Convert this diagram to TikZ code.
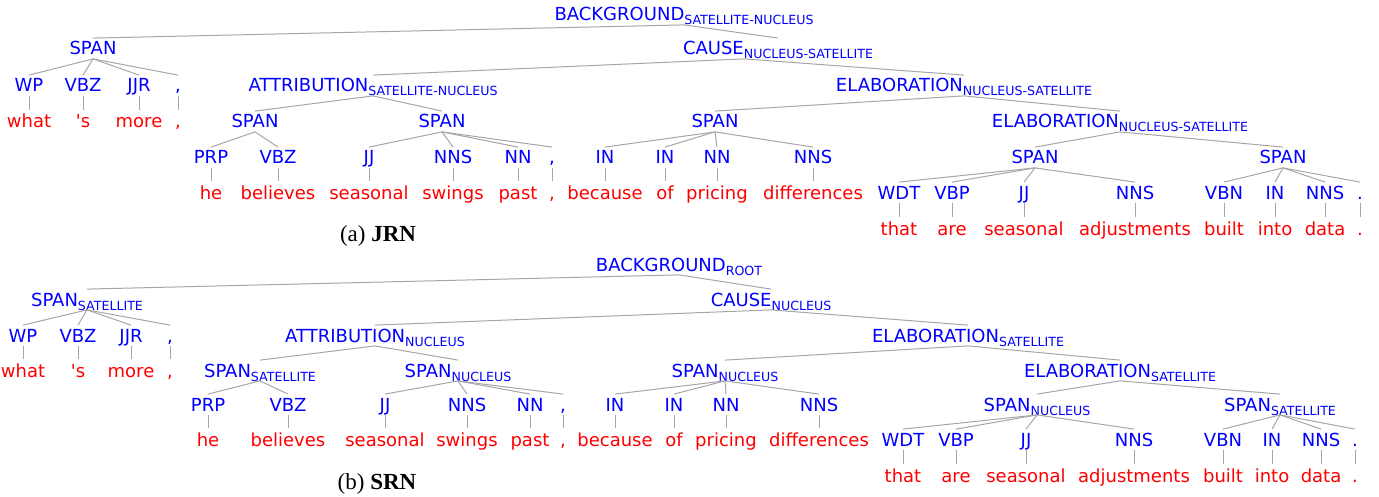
\documentclass[tikz,border=0pt]{standalone}
\usepackage{fontspec}
\newfontfamily\treefont{DejaVu Sans}
\newfontfamily\capfont{Liberation Serif}
\newcommand{\relsub}[1]{\raisebox{-2pt}{\fontsize{6.3}{7}\selectfont #1}}
\tikzset{
  rel/.style={text=blue, font=\treefont\fontsize{9}{10}\selectfont, anchor=base,
    inner xsep=0pt, inner ysep=1.75pt, text height=6.5pt, text depth=0pt},
  word/.style={text=red, font=\treefont\fontsize{9}{10}\selectfont, anchor=base,
    inner xsep=0pt, inner ysep=1.75pt, text height=7pt, text depth=0pt},
  subcaption/.style={font=\capfont\fontsize{11.5}{13}\selectfont, anchor=base},
  edge/.style={draw=black!35, line width=0.5pt}
}

\begin{document}
\begin{tikzpicture}[x=0.5pt, y=-0.5pt]
  \useasboundingbox (0,0) rectangle (1379,497);

  \node[rel] (a-bg) at (684,21) {BACKGROUND\relsub{SATELLITE-NUCLEUS}};
  \node[rel] (a-sp1) at (93,55) {SPAN};
  \node[rel] (a-ca) at (778,55) {CAUSE\relsub{NUCLEUS-SATELLITE}};
  \node[rel] (a-at) at (373,92) {ATTRIBUTION\relsub{SATELLITE-NUCLEUS}};
  \node[rel] (a-el1) at (964,92) {ELABORATION\relsub{NUCLEUS-SATELLITE}};
  \node[rel] (a-sp2) at (255,128) {SPAN};
  \node[rel] (a-sp3) at (442,128) {SPAN};
  \node[rel] (a-sp4) at (715,128) {SPAN};
  \node[rel] (a-el2) at (1120,128) {ELABORATION\relsub{NUCLEUS-SATELLITE}};
  \node[rel] (a-sp5) at (1035,164) {SPAN};
  \node[rel] (a-sp6) at (1283,164) {SPAN};

  \foreach \x/\t/\w [count=\i] in {29/WP/what, 83/VBZ/'s, 139/JJR/more, 178/{,}/{,}} {
    \node[rel] (a1t\i) at (\x,92) {\t};
    \node[word] (a1w\i) at (\x,128) {\w};
    \draw[edge] (a1t\i.south) -- (a1w\i.north);
  }
  \foreach \x/\t/\w [count=\i] in {211/PRP/he, 278/VBZ/believes, 369/JJ/seasonal,
      453/NNS/swings, 518/NN/past, 552/{,}/{,}, 605/IN/because, 665/IN/of,
      717/NN/pricing, 813/NNS/differences} {
    \node[rel] (a2t\i) at (\x,164) {\t};
    \node[word] (a2w\i) at (\x,199) {\w};
    \draw[edge] (a2t\i.south) -- (a2w\i.north);
  }
  \foreach \x/\t/\w [count=\i] in {899/WDT/that, 952/VBP/are, 1024/JJ/seasonal,
      1135/NNS/adjustments, 1224/VBN/built, 1275/IN/into, 1325/NNS/data, 1360/./.} {
    \node[rel] (a3t\i) at (\x,199) {\t};
    \node[word] (a3w\i) at (\x,235) {\w};
    \draw[edge] (a3t\i.south) -- (a3w\i.north);
  }

  \draw[edge] (a-sp1.north) -- (a-bg.south) -- (a-ca.north);
  \draw[edge] (a-at.north) -- ([xshift=-17pt]a-ca.south) -- (a-el1.north);
  \draw[edge] (a-sp2.north) -- (a-at.south) -- (a-sp3.north);
  \draw[edge] (a-sp4.north) -- (a-el1.south) -- (a-el2.north);
  \draw[edge] (a-sp5.north) -- (a-el2.south) -- (a-sp6.north);
  \foreach \c in {a1t1,a1t2,a1t3,a1t4} \draw[edge] (a-sp1.south) -- (\c.north);
  \foreach \c in {a2t1,a2t2} \draw[edge] (a-sp2.south) -- (\c.north);
  \foreach \c in {a2t3,a2t4,a2t5,a2t6} \draw[edge] (a-sp3.south) -- (\c.north);
  \foreach \c in {a2t7,a2t8,a2t9,a2t10} \draw[edge] (a-sp4.south) -- (\c.north);
  \foreach \c in {a3t1,a3t2,a3t3,a3t4} \draw[edge] (a-sp5.south) -- (\c.north);
  \foreach \c in {a3t5,a3t6,a3t7,a3t8} \draw[edge] (a-sp6.south) -- (\c.north);

  \node[subcaption] (cap-a) at (378,242) {(a) \textbf{JRN}};

  \node[rel] (b-bg) at (679,271) {BACKGROUND\relsub{ROOT}};
  \node[rel] (b-sp1) at (87,306) {SPAN\relsub{SATELLITE}};
  \node[rel] (b-ca) at (771,306) {CAUSE\relsub{NUCLEUS}};
  \node[rel] (b-at) at (375,342) {ATTRIBUTION\relsub{NUCLEUS}};
  \node[rel] (b-el1) at (968,342) {ELABORATION\relsub{SATELLITE}};
  \node[rel] (b-sp2) at (260,377) {SPAN\relsub{SATELLITE}};
  \node[rel] (b-sp3) at (458,377) {SPAN\relsub{NUCLEUS}};
  \node[rel] (b-sp4) at (725,377) {SPAN\relsub{NUCLEUS}};
  \node[rel] (b-el2) at (1120,377) {ELABORATION\relsub{SATELLITE}};
  \node[rel] (b-sp5) at (1037,411) {SPAN\relsub{NUCLEUS}};
  \node[rel] (b-sp6) at (1280,411) {SPAN\relsub{SATELLITE}};

  \foreach \x/\t/\w [count=\i] in {23/WP/what, 78/VBZ/'s, 131/JJR/more, 170/{,}/{,}} {
    \node[rel] (b1t\i) at (\x,342) {\t};
    \node[word] (b1w\i) at (\x,377) {\w};
    \draw[edge] (b1t\i.south) -- (b1w\i.north);
  }
  \foreach \x/\t/\w [count=\i] in {208/PRP/he, 288/VBZ/believes, 385/JJ/seasonal,
      467/NNS/swings, 530/NN/past, 563/{,}/{,}, 615/IN/because, 674/IN/of,
      726/NN/pricing, 819/NNS/differences} {
    \node[rel] (b2t\i) at (\x,411) {\t};
    \node[word] (b2w\i) at (\x,446) {\w};
    \draw[edge] (b2t\i.south) -- (b2w\i.north);
  }
  \foreach \x/\t/\w [count=\i] in {903/WDT/that, 956/VBP/are, 1026/JJ/seasonal,
      1134/NNS/adjustments, 1223/VBN/built, 1272/IN/into, 1321/NNS/data, 1355/./.} {
    \node[rel] (b3t\i) at (\x,446) {\t};
    \node[word] (b3w\i) at (\x,482) {\w};
    \draw[edge] (b3t\i.south) -- (b3w\i.north);
  }

  \draw[edge] (b-sp1.north) -- (b-bg.south) -- (b-ca.north);
  \draw[edge] (b-at.north) -- (b-ca.south) -- (b-el1.north);
  \draw[edge] (b-sp2.north) -- (b-at.south) -- (b-sp3.north);
  \draw[edge] (b-sp4.north) -- (b-el1.south) -- (b-el2.north);
  \draw[edge] (b-sp5.north) -- (b-el2.south) -- (b-sp6.north);
  \foreach \c in {b1t1,b1t2,b1t3,b1t4} \draw[edge] (b-sp1.south) -- (\c.north);
  \foreach \c in {b2t1,b2t2} \draw[edge] (b-sp2.south) -- (\c.north);
  \foreach \c in {b2t3,b2t4,b2t5,b2t6} \draw[edge] (b-sp3.south) -- (\c.north);
  \foreach \c in {b2t7,b2t8,b2t9,b2t10} \draw[edge] (b-sp4.south) -- (\c.north);
  \foreach \c in {b3t1,b3t2,b3t3,b3t4} \draw[edge] (b-sp5.south) -- (\c.north);
  \foreach \c in {b3t5,b3t6,b3t7,b3t8} \draw[edge] (b-sp6.south) -- (\c.north);

  \node[subcaption] (cap-b) at (377,489) {(b) \textbf{SRN}};
\end{tikzpicture}
\end{document}
